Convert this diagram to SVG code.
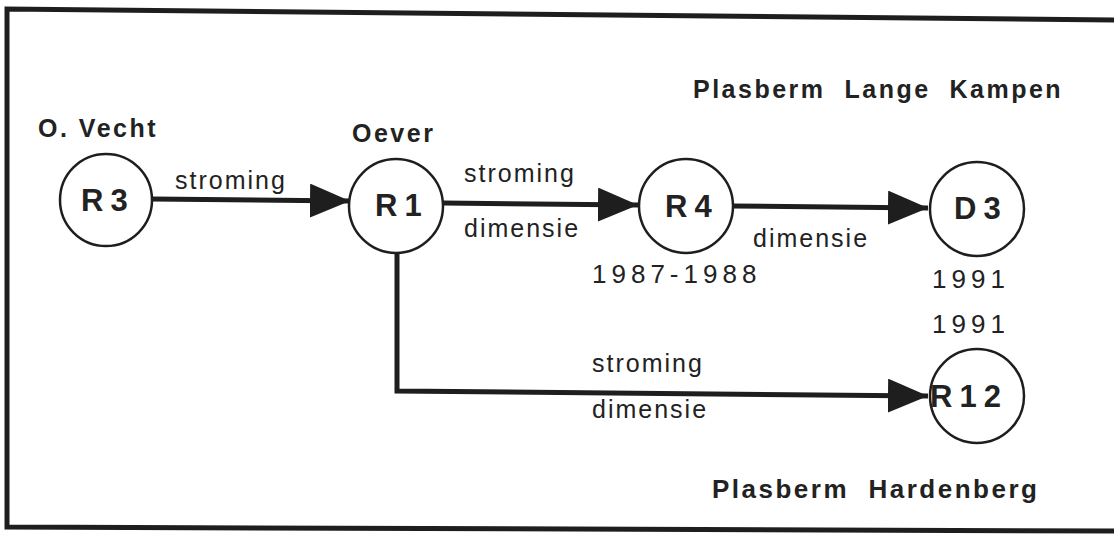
<svg xmlns="http://www.w3.org/2000/svg" width="1114" height="536" viewBox="0 0 1114 536">
<defs>
<style>
.frame{fill:none;stroke:#1e1e1e;stroke-width:5}
.node circle{fill:#fff;stroke:#1e1e1e;stroke-width:2.5}
.node text{font-family:"Liberation Sans",Arial,sans-serif;font-weight:bold;font-size:31px;fill:#222;letter-spacing:7px}
.conn{fill:none;stroke:#1e1e1e;stroke-width:5}
.lbl{font-family:"Liberation Sans",Arial,sans-serif;font-size:25px;fill:#222;letter-spacing:2px}
.title{font-family:"Liberation Sans",Arial,sans-serif;font-weight:bold;font-size:25px;fill:#222;letter-spacing:2.5px}
.year{font-family:"Liberation Sans",Arial,sans-serif;font-size:26px;fill:#222;letter-spacing:5px}
</style>
<marker id="arrow" markerUnits="userSpaceOnUse" markerWidth="44" markerHeight="40" refX="40" refY="17" orient="auto">
<path d="M0,0 L40,17 L0,34 Z" fill="#1e1e1e"/>
</marker>
</defs>
<rect width="1114" height="536" fill="#fff"/>
<path class="frame" d="M1114,20 L7,9 L7,527 L1114,531"/>
<g id="connectors">
<line class="conn" x1="152" y1="199" x2="350" y2="201" marker-end="url(#arrow)"/>
<line class="conn" x1="443" y1="203" x2="638" y2="205" marker-end="url(#arrow)"/>
<line class="conn" x1="733" y1="206" x2="928" y2="208" marker-end="url(#arrow)"/>
<polyline class="conn" points="397,254 397,391 928,396" marker-end="url(#arrow)"/>
</g>
<g id="node-R3" class="node"><circle cx="106" cy="200" r="46"/><text x="81" y="211">R3</text></g>
<g id="node-R1" class="node"><circle cx="396" cy="206" r="47"/><text x="375" y="216">R1</text></g>
<g id="node-R4" class="node"><circle cx="686" cy="206" r="47"/><text x="665" y="217">R4</text></g>
<g id="node-D3" class="node"><circle cx="977" cy="209" r="47"/><text x="954" y="219">D3</text></g>
<g id="node-R12" class="node"><circle cx="977" cy="396" r="47"/><text x="930" y="407">R12</text></g>
<g id="labels">
<text class="title" x="38" y="137">O. Vecht</text>
<text class="title" x="352" y="142">Oever</text>
<text class="title" x="693" y="98" xml:space="preserve">Plasberm  Lange  Kampen</text>
<text class="title" x="712" y="498" style="font-size:26px" xml:space="preserve">Plasberm  Hardenberg</text>
<text class="lbl" x="175" y="189">stroming</text>
<text class="lbl" x="464" y="182">stroming</text>
<text class="lbl" x="464" y="237">dimensie</text>
<text class="lbl" x="753" y="247">dimensie</text>
<text class="lbl" x="592" y="372">stroming</text>
<text class="lbl" x="592" y="418">dimensie</text>
<text class="year" x="592" y="283">1987-1988</text>
<text class="year" x="932" y="288">1991</text>
<text class="year" x="932" y="333">1991</text>
</g>
</svg>
